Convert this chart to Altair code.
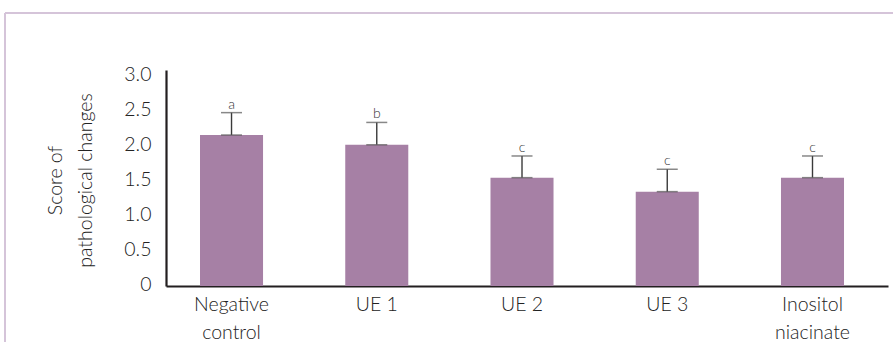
import altair as alt
import pandas as pd

groups = ["Negative control", "UE 1", "UE 2", "UE 3", "Inositol niacinate"]
means = [2.16, 2.02, 1.55, 1.35, 1.55]
errors = [0.32, 0.32, 0.31, 0.32, 0.31]
letters = ["a", "b", "c", "c", "c"]
y_ticks = [0, 0.5, 1.0, 1.5, 2.0, 2.5, 3.0]

df = pd.DataFrame({
    "group": groups,
    "mean": means,
    "err": errors,
    "letter": letters,
})
df["upper"] = df["mean"] + df["err"]

FONT = "Lato"
TXT = "#222222"

x_axis = alt.Axis(
    title=None,
    labelAngle=0,
    labelFont=FONT,
    labelFontSize=19.5,
    labelFontWeight=300,
    labelColor=TXT,
    labelLineHeight=28,
    labelPadding=9,
    labelExpr="indexof(datum.label, 'UE') == 0 ? datum.label : split(datum.label, ' ')",
    ticks=False,
    domainColor="#231f20",
    domainWidth=2.2,
)
x_scale = alt.Scale(paddingInner=0.566, paddingOuter=0.2685, align=0.436)

y_axis = alt.Axis(
    title=["Score of", "pathological changes"],
    titleFont=FONT,
    titleFontSize=19.5,
    titleFontWeight=300,
    titleColor=TXT,
    titleLineHeight=30,
    titleAngle=-90,
    titleAlign="center",
    titleBaseline="middle",
    titleX=-111,
    titleY=110,
    values=y_ticks,
    labelExpr="datum.value == 0 ? '0' : format(datum.value, '.1f')",
    labelFont=FONT,
    labelFontSize=19.5,
    labelFontWeight=300,
    labelColor=TXT,
    labelPadding=15,
    labelOffset=-2,
    labelOverlap=False,
    ticks=False,
    grid=False,
    domainColor="#231f20",
    domainWidth=2.2,
)
y_scale = alt.Scale(domain=[0, 3.09], nice=False)


def X():
    return alt.X("group:N", sort=groups, scale=x_scale, axis=x_axis)


def Y(field):
    return alt.Y(f"{field}:Q", scale=y_scale, axis=y_axis)


base = alt.Chart(df)

bars = base.mark_bar(color="#a680a5").encode(x=X(), y=Y("mean"))

stem = base.mark_rule(color="#3a3a3a", strokeWidth=1.4).encode(
    x=X(), y=Y("mean"), y2="upper:Q"
)

cap_low = base.mark_tick(color="#555555", thickness=1.5, size=21).encode(
    x=X(), y=Y("mean")
)

cap_high = base.mark_tick(color="#555555", thickness=1.5, size=21).encode(
    x=X(), y=Y("upper")
)

sig = base.mark_text(font=FONT, fontSize=14, fontWeight=300, color="#333333",
                     baseline="bottom", dy=-1).encode(
    x=X(), y=Y("upper"), text="letter:N"
)

frame_top = alt.Chart(df).mark_rule(color="#d5c4d9", strokeWidth=2).encode(
    x=alt.value(-161), x2=alt.value(740), y=alt.value(-57)
)
frame_left = alt.Chart(df).mark_rule(color="#d5c4d9", strokeWidth=2).encode(
    x=alt.value(-161), y=alt.value(-57), y2=alt.value(290)
)

chart = alt.layer(bars, stem, cap_low, cap_high, sig, frame_top, frame_left).properties(
    width=722,
    height=216,
    autosize=alt.AutoSizeParams(type="none"),
    padding={"left": 166, "top": 70, "right": 5, "bottom": 56},
    background="white",
).configure_view(stroke=None).configure_axis(labelOverlap=False)

chart.save("out.html", embed_options={"renderer": "svg", "actions": False})
